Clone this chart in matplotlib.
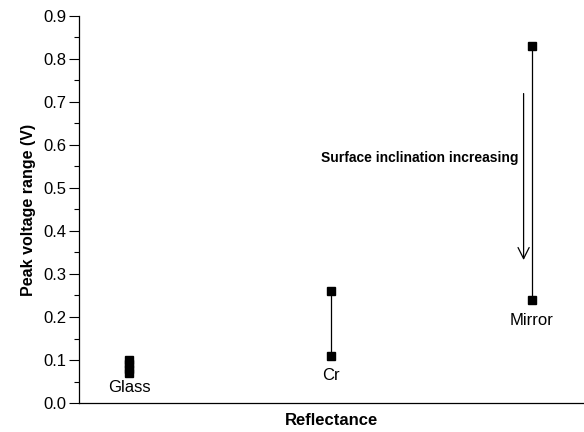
import numpy as np
import matplotlib
matplotlib.use('Agg')
import matplotlib.pyplot as plt
from matplotlib.ticker import MultipleLocator

plt.rcParams['font.family'] = ['Liberation Sans', 'DejaVu Sans']

# data
categories = ['Glass', 'Cr', 'Mirror']
glass_vals = [0.10, 0.09, 0.08, 0.07]
cr_vals = [0.26, 0.11]
mirror_vals = [0.83, 0.24]
arrow_top = 0.726
arrow_bottom = 0.326
note = 'Surface inclination increasing'

series = [glass_vals, cr_vals, mirror_vals]
label_offsets = [-10.5, -14, -15]

fig = plt.figure(figsize=(5.84, 4.32), dpi=100)
ax = fig.add_axes([0.1353, 0.0671, 0.8647, 0.896])

xpos = np.arange(1, len(categories) + 1)
for x, vals, name, off in zip(xpos, series, categories, label_offsets):
    xs = [x] * len(vals)
    ax.plot(xs, vals, color='black', lw=0.9, zorder=2)
    ax.plot(xs, vals, ls='none', marker='s', ms=6, color='black', zorder=3)
    ax.annotate(name, (x, min(vals)), xytext=(0, off), textcoords='offset points',
                ha='center', va='center', fontsize=12)

# arrow + label beside the mirror line
ax.annotate('', xy=(2.959, arrow_bottom), xytext=(2.959, arrow_top),
            arrowprops=dict(arrowstyle='->', color='black', lw=0.9,
                            mutation_scale=20))
ax.text(2.935, 0.57, note, ha='right', va='center', fontsize=10, fontweight='bold')

ax.set_xlim(0.751, 3.259)
ax.set_ylim(0, 0.9)
ax.yaxis.set_minor_locator(MultipleLocator(0.05))
ax.set_yticks(np.arange(0, 0.91, 0.1))
ax.set_yticklabels(['%.1f' % v for v in np.arange(0, 0.91, 0.1)], fontsize=12)
ax.set_xticks([])
ax.tick_params(axis='y', which='major', length=7, width=0.8, direction='out', pad=2)
ax.tick_params(axis='y', which='minor', length=3.5, width=0.8, direction='out')

ax.spines['top'].set_visible(False)
ax.spines['right'].set_visible(False)
ax.spines['left'].set_linewidth(0.9)
ax.spines['bottom'].set_linewidth(0.9)

ax.set_ylabel('Peak voltage range (V)', fontsize=11.5, fontweight='bold', labelpad=5)
ax.set_xlabel('Reflectance', fontsize=12, fontweight='bold', labelpad=7)

fig.savefig('out.png', dpi=100)
